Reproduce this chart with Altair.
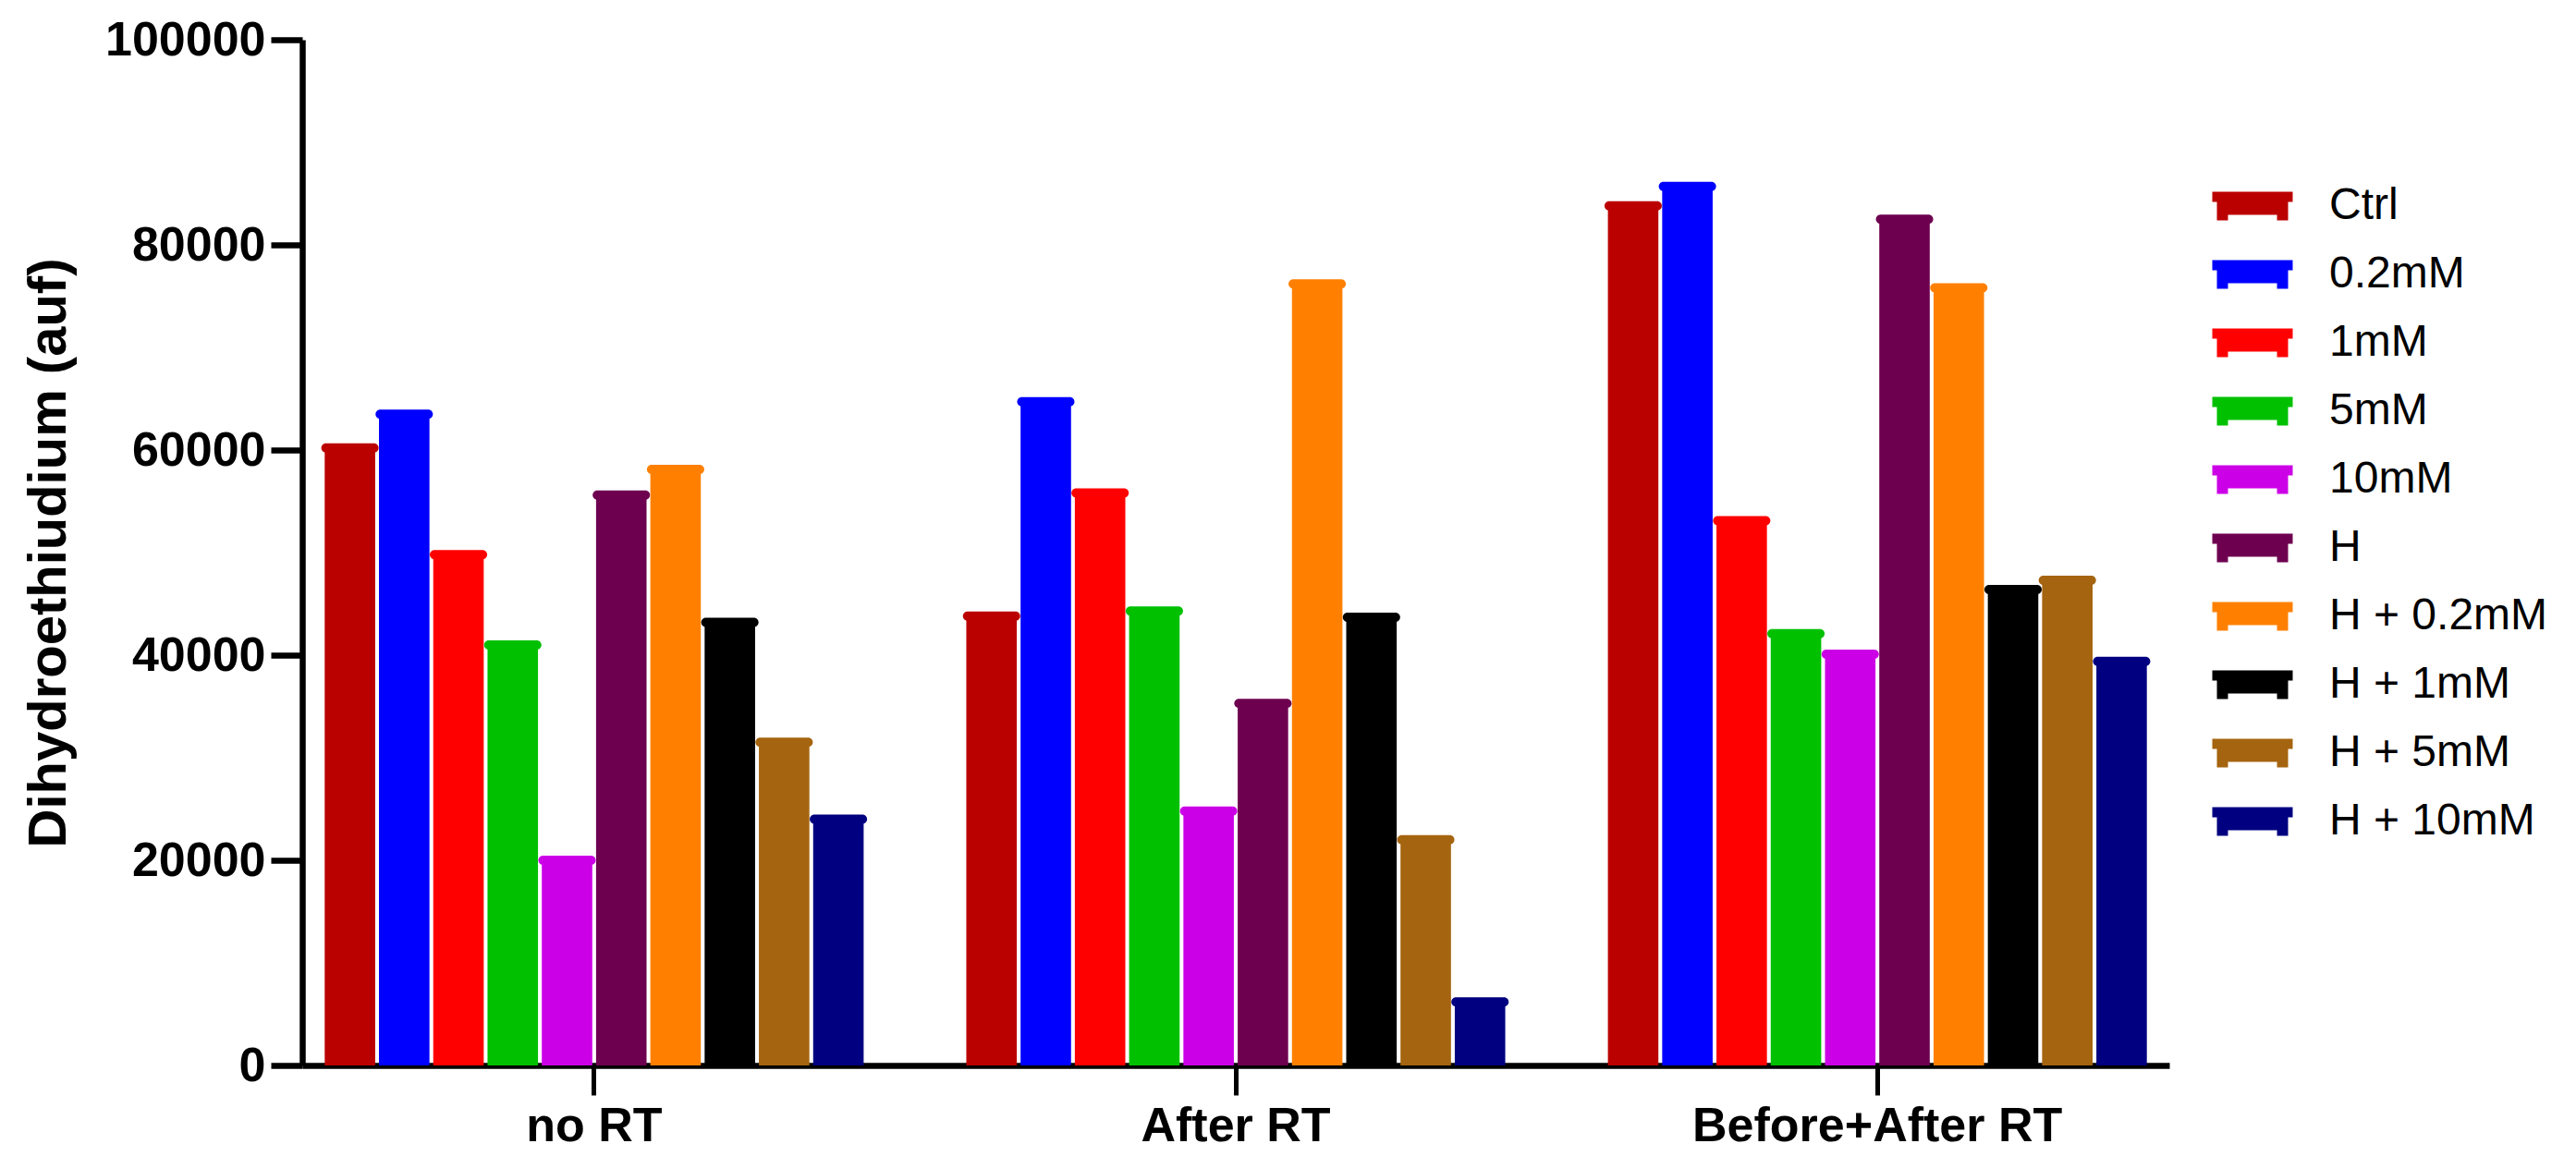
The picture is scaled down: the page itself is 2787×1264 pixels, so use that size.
import altair as alt
import pandas as pd

groups = ["no RT", "After RT", "Before+After RT"]
treatments = ["Ctrl", "0.2mM", "1mM", "5mM", "10mM", "H",
              "H + 0.2mM", "H + 1mM", "H + 5mM", "H + 10mM"]
colors = ["#BB0000", "#0000FF", "#FF0000", "#00C000", "#CC00E6", "#6E0050",
          "#FF8000", "#000000", "#A5640F", "#000080"]
no_rt = [60200, 63500, 49800, 41000, 20000, 55600, 58100, 43200, 31500, 24000]
after_rt = [43800, 64700, 55800, 44300, 24800, 35300, 76200, 43700, 22000, 6200]
before_after_rt = [83800, 85700, 53100, 42100, 40100, 82500, 75800, 46400, 47300, 39400]

rows = []
for g, vals in zip(groups, [no_rt, after_rt, before_after_rt]):
    for t, v in zip(treatments, vals):
        rows.append({"group": g, "treatment": t, "value": v})
df = pd.DataFrame(rows)

FONT = "Liberation Sans"
legend_path = ("M-2,-0.713H2V-0.207H-2Z "
               "M-1.77,-0.207H1.77V0.437H-1.77Z "
               "M-1.77,0.437H-1.22V0.713H-1.77Z "
               "M1.22,0.437H1.77V0.713H1.22Z")

x_enc = alt.X("group:N", sort=groups,
              scale=alt.Scale(paddingInner=0.16, paddingOuter=0.035),
              axis=alt.Axis(title=None, labelAngle=0, labelFont=FONT,
                            labelFontSize=52, labelFontWeight="bold",
                            labelColor="black", labelPadding=8,
                            labelLimit=1000,
                            tickSize=32, tickWidth=5, tickColor="black",
                            domainColor="black", domainWidth=6.5))
xoff_enc = alt.XOffset("treatment:N", sort=treatments,
                       scale=alt.Scale(paddingInner=0.07, paddingOuter=0))
y_enc = alt.Y("value:Q",
              scale=alt.Scale(domain=[0, 100000], nice=False, zero=True),
              axis=alt.Axis(title="Dihydroethiudium (auf)",
                            values=[0, 20000, 40000, 60000, 80000, 100000],
                            format="d", grid=False,
                            labelFont=FONT, labelFontSize=52,
                            labelFontWeight="bold", labelColor="black",
                            labelPadding=6, tickSize=34, tickWidth=6.5,
                            tickColor="black", domainColor="black",
                            domainWidth=6.5,
                            titleFont=FONT, titleFontSize=58,
                            titleFontWeight="bold", titleColor="black",
                            titleAngle=-90, titleBaseline="alphabetic",
                            titleAlign="center", titleX=-257, titleY=555))
color_enc = alt.Color("treatment:N", sort=treatments,
                      scale=alt.Scale(domain=treatments, range=colors),
                      legend=alt.Legend(title=None, orient="none",
                                        legendX=2086, legendY=156,
                                        symbolType=legend_path,
                                        symbolSize=1892,
                                        symbolStrokeWidth=0,
                                        symbolOpacity=1,
                                        labelFont=FONT, labelFontSize=48,
                                        labelColor="black",
                                        labelOffset=59, rowPadding=26,
                                        padding=0, labelLimit=400))

bars = alt.Chart(df).mark_bar().encode(
    x=x_enc, xOffset=xoff_enc, y=y_enc, color=color_enc)

caps = alt.Chart(df).mark_tick(orient="horizontal", thickness=10, size=62,
                               cornerRadius=5, opacity=1).encode(
    x=alt.X("group:N", sort=groups),
    xOffset=alt.XOffset("treatment:N", sort=treatments),
    y="value:Q",
    color=alt.Color("treatment:N", sort=treatments, legend=None))

chart = alt.layer(bars, caps).properties(
    width=2020, height=1110,
    autosize=alt.AutoSizeParams(type="none"),
    padding={"left": 319, "top": 35, "right": 430, "bottom": 100},
    background="white",
).configure_view(stroke=None)

chart.save("out.html", embed_options={"renderer": "svg", "actions": False})
